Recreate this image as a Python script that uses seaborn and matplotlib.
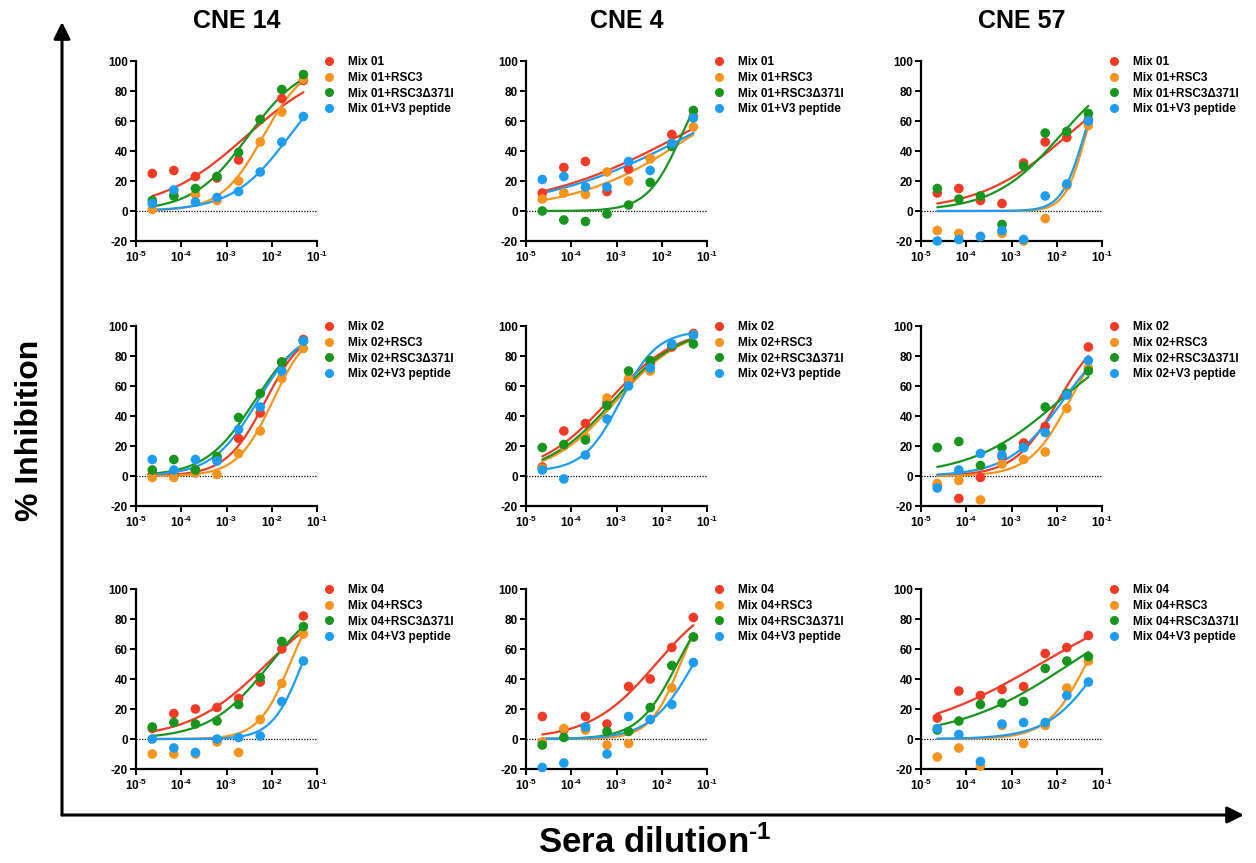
import numpy as np
import pandas as pd
import matplotlib
matplotlib.use("Agg")
import matplotlib.pyplot as plt
import seaborn as sns
from matplotlib.lines import Line2D
from matplotlib import ticker

# ---------------- data ----------------
dilution = [2.29e-5, 6.86e-5, 2.06e-4, 6.17e-4, 1.85e-3, 5.56e-3, 1.67e-2, 5.0e-2]
sera = ["CNE 14", "CNE 4", "CNE 57"]
mixes = ["Mix 01", "Mix 02", "Mix 04"]
treat_suffix = ["", "+RSC3", "+RSC3\u0394371I", "+V3 peptide"]
colors = ["#F23B25", "#F7941E", "#17951F", "#1E9CF0"]

# % inhibition per treatment (order: mix, +RSC3, +RSC3Δ371I, +V3 peptide)
cne14_mix01 = [[25, 27, 23, 22, 34, 61, 75, 87],
               [1, 11, 11, 7, 20, 46, 66, 88],
               [7, 10, 15, 23, 39, 61, 81, 91],
               [5, 14, 6, 9, 13, 26, 46, 63]]
cne4_mix01 = [[12, 29, 33, 13, 28, 35, 51, 63],
              [8, 12, 11, 26, 20, 35, 45, 56],
              [0, -6, -7, -2, 4, 19, 43, 67],
              [21, 23, 16, 16, 33, 27, 45, 62]]
cne57_mix01 = [[12, 15, 7, 5, 32, 46, 49, 61],
               [-13, -15, -17, -15, -20, -5, 17, 57],
               [15, 8, 10, -9, 30, 52, 53, 65],
               [-20, -19, -17, -13, -19, 10, 18, 60]]
cne14_mix02 = [[1, 1, 4, 11, 25, 42, 76, 91],
               [-1, -1, 2, 1, 15, 30, 65, 85],
               [4, 11, 4, 13, 39, 55, 76, 90],
               [11, 4, 11, 10, 31, 46, 70, 90]]
cne4_mix02 = [[6, 30, 35, 49, 64, 75, 86, 95],
              [5, 20, 26, 52, 65, 70, 87, 94],
              [19, 21, 24, 47, 70, 77, 87, 88],
              [4, -2, 14, 38, 60, 72, 88, 94]]
cne57_mix02 = [[-6, -15, -1, 13, 22, 33, 55, 86],
               [-5, -3, -16, 8, 11, 16, 45, 72],
               [19, 23, 7, 19, 19, 46, 55, 70],
               [-8, 4, 15, 14, 19, 29, 54, 77]]
cne14_mix04 = [[7, 17, 20, 21, 27, 38, 60, 82],
               [-10, -10, -10, -2, -9, 13, 37, 70],
               [8, 11, 10, 12, 23, 41, 65, 75],
               [0, -6, -9, 0, 1, 2, 25, 52]]
cne4_mix04 = [[15, 6, 15, 10, 35, 40, 61, 81],
              [-2, 7, 6, -4, -3, 13, 34, 68],
              [-4, 1, 8, 5, 5, 21, 49, 68],
              [-19, -16, 8, -10, 15, 13, 23, 51]]
cne57_mix04 = [[14, 32, 29, 33, 35, 57, 61, 69],
               [-12, -6, -18, 9, -3, 9, 34, 52],
               [6, 12, 23, 24, 25, 47, 52, 55],
               [7, 3, -15, 10, 11, 11, 29, 38]]

# fitted 4PL parameters (logEC50, hill, bottom, top) per treatment
cne14_mix01_fit = [(-2.56, 0.46, 0, 100), (-2.185, 0.93, 0, 100), (-2.52, 0.71, 0, 100), (-1.61, 0.69, 0, 100)]
cne4_mix01_fit = [(-1.62, 0.273, 0, 100), (-1.35, 0.34, 0, 100), (-1.57, 1.15, 0, 100), (-1.43, 0.27, 0, 100)]
cne57_mix01_fit = [(-1.78, 0.447, 0, 100), (-1.365, 1.9, 0, 100), (-1.93, 0.587, 0, 100), (-1.40, 1.74, 0, 100)]
cne14_mix02_fit = [(-2.14, 1.0, 0, 100), (-1.98, 1.1, 0, 100), (-2.38, 0.8, 0, 100), (-2.31, 0.86, 0, 100)]
cne4_mix02_fit = [(-3.18, 0.564, 0, 100), (-3.01, 0.587, 0, 100), (-3.075, 0.58, 0, 100), (-2.915, 1.07, 3, 97)]
cne57_mix02_fit = [(-1.97, 0.90, 0, 100), (-1.72, 0.98, 0, 100), (-1.95, 0.444, 0, 100), (-1.87, 0.72, 0, 100)]
cne14_mix04_fit = [(-2.11, 0.506, 0, 100), (-1.60, 1.24, 0, 100), (-2.04, 0.65, 0, 100), (-1.33, 1.3, 0, 100)]
cne4_mix04_fit = [(-2.13, 0.60, 0, 100), (-1.59, 1.28, 0, 100), (-1.66, 1.01, 0, 100), (-1.30, 0.90, 0, 100)]
cne57_mix04_fit = [(-2.37, 0.304, 0, 100), (-1.35, 1.0, 0, 100), (-1.71, 0.343, 0, 100), (-1.02, 0.748, 0, 100)]

grid_data = [[cne14_mix01, cne4_mix01, cne57_mix01],
             [cne14_mix02, cne4_mix02, cne57_mix02],
             [cne14_mix04, cne4_mix04, cne57_mix04]]
grid_fit = [[cne14_mix01_fit, cne4_mix01_fit, cne57_mix01_fit],
            [cne14_mix02_fit, cne4_mix02_fit, cne57_mix02_fit],
            [cne14_mix04_fit, cne4_mix04_fit, cne57_mix04_fit]]

# ---------------- style ----------------
sns.set_theme(style="ticks")
plt.rcParams["font.family"] = ["Liberation Sans", "DejaVu Sans"]
plt.rcParams["font.weight"] = "bold"
plt.rcParams["mathtext.fontset"] = "custom"
plt.rcParams["mathtext.rm"] = "Liberation Sans:bold"
plt.rcParams["mathtext.bf"] = "Liberation Sans:bold"
plt.rcParams["mathtext.default"] = "bf"
plt.rcParams["axes.unicode_minus"] = False
for k in ["text.color", "axes.labelcolor", "xtick.color", "ytick.color", "axes.edgecolor"]:
    plt.rcParams[k] = "black"

W, H = 1256, 863
fig = plt.figure(figsize=(W / 100, H / 100), dpi=100)

col_left = [136, 526, 921]
row_top = [61, 326, 589]
ax_w, ax_h = 181, 180


def four_pl(x, p):
    e, h, b, t = p
    return b + (t - b) / (1 + 10 ** (h * (e - np.log10(x))))


xfine = np.logspace(np.log10(dilution[0]), np.log10(dilution[-1]), 200)

for r in range(3):
    for c in range(3):
        left = col_left[c]
        top = row_top[r]
        ax = fig.add_axes([left / W, 1 - (top + ax_h) / H, ax_w / W, ax_h / H])
        labels = [mixes[r] + s for s in treat_suffix]
        pal = dict(zip(labels, colors))
        pts = pd.DataFrame({
            "x": np.tile(dilution, 4),
            "y": np.concatenate(grid_data[r][c]),
            "grp": np.repeat(labels, len(dilution)),
        })
        cur = pd.DataFrame({
            "x": np.tile(xfine, 4),
            "y": np.concatenate([four_pl(xfine, p) for p in grid_fit[r][c]]),
            "grp": np.repeat(labels, len(xfine)),
        })
        ax.axhline(0, color="black", lw=0.9, ls=(0, (1, 1.2)), zorder=1)
        sns.lineplot(data=cur, x="x", y="y", hue="grp", palette=pal, lw=1.6,
                     legend=False, ax=ax, zorder=2)
        sns.scatterplot(data=pts, x="x", y="y", hue="grp", palette=pal, s=48,
                        edgecolor="none", legend=False, ax=ax, zorder=3, clip_on=False)
        ax.set_xscale("log")
        ax.set_xlim(1e-5, 1e-1)
        ax.set_ylim(-20, 100)
        ax.set_yticks(range(-20, 101, 20))
        ax.xaxis.set_major_locator(ticker.FixedLocator([1e-5, 1e-4, 1e-3, 1e-2, 1e-1]))
        ax.xaxis.set_minor_locator(ticker.NullLocator())
        ax.xaxis.set_major_formatter(ticker.FuncFormatter(
            lambda v, pos: r"$10^{\text{-%d}}$" % abs(int(round(np.log10(v))))))
        ax.set_xlabel("")
        ax.set_ylabel("")
        for s in ["top", "right"]:
            ax.spines[s].set_visible(False)
        for s in ["left", "bottom"]:
            ax.spines[s].set_linewidth(1.6)
            ax.spines[s].set_color("black")
        ax.tick_params(axis="both", length=4, width=1.4, color="black",
                       labelcolor="black", labelsize=8.5, pad=2)
        for lab in ax.get_xticklabels() + ax.get_yticklabels():
            lab.set_fontweight("bold")
        handles = [Line2D([], [], ls="none", marker="o", ms=6.5, mfc=col, mec="none")
                   for col in colors]
        ax.legend(handles, labels, loc="upper left",
                  bbox_to_anchor=((left + ax_w + 6) / W, 1 - (top - 5) / H),
                  bbox_transform=fig.transFigure, frameon=False,
                  prop={"weight": "bold", "size": 8.5}, handlelength=1.0,
                  handletextpad=1.1, labelspacing=0.32, borderpad=0, borderaxespad=0)

# column titles
for c in range(3):
    fig.text((col_left[c] + ax_w / 2 + 10) / W, 1 - 21 / H, sera[c],
             ha="center", va="center", fontsize=18, fontweight="bold")

# big arrows
ax0 = 62
ay0 = 815
fig.add_artist(matplotlib.patches.FancyArrowPatch(
    (ax0 / W, 1 - ay0 / H), (ax0 / W, 1 - 22 / H), transform=fig.transFigure,
    arrowstyle="-|>,head_length=10,head_width=5", lw=2.2, color="black",
    shrinkA=0, shrinkB=0))
fig.add_artist(matplotlib.patches.FancyArrowPatch(
    (ax0 / W, 1 - ay0 / H), (1244 / W, 1 - ay0 / H), transform=fig.transFigure,
    arrowstyle="-|>,head_length=10,head_width=5", lw=2.2, color="black",
    shrinkA=0, shrinkB=0))

fig.text(30 / W, 1 - 430 / H, "% Inhibition", rotation=90, ha="center",
         va="center", fontsize=23, fontweight="bold")
fig.text(655 / W, 1 - 843 / H, r"Sera dilution$^{\text{-1}}$", ha="center",
         va="center", fontsize=25, fontweight="bold")

fig.savefig("out.png", dpi=100, facecolor="white")
